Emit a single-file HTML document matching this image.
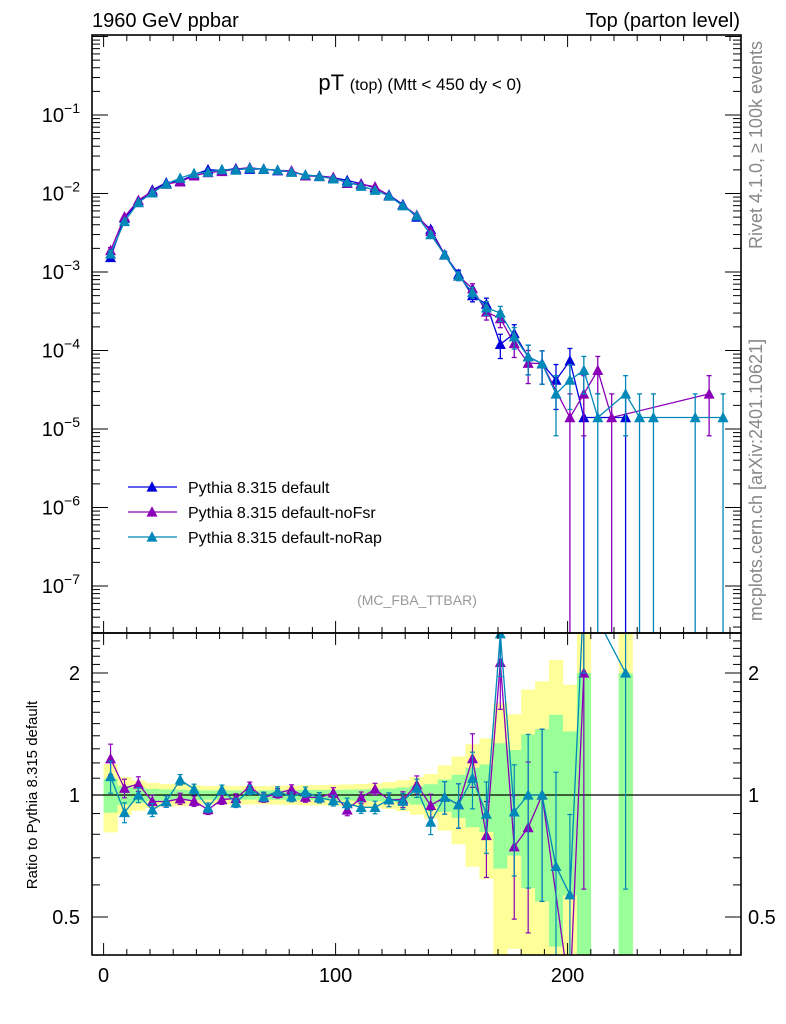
<!DOCTYPE html>
<html><head><meta charset="utf-8"><style>
html,body{margin:0;padding:0;background:#fff;overflow:hidden;width:786px;height:1024px;}
svg{display:block;font-family:"Liberation Sans",Arial,sans-serif;}
</style></head><body>
<svg id="chart" width="786" height="1024" viewBox="0 0 786 1024" xmlns="http://www.w3.org/2000/svg">
<defs>
<clipPath id="cm"><rect x="92" y="35" width="649" height="598"/></clipPath>
<clipPath id="cr"><rect x="92" y="633" width="649" height="322"/></clipPath>
</defs>
<text x="92" y="27" font-size="20">1960 GeV ppbar</text>
<text x="740" y="27" font-size="20" text-anchor="end">Top (parton level)</text>
<text x="420" y="90" font-size="22" text-anchor="middle">pT <tspan font-size="16">(top)</tspan><tspan font-size="17"> (Mtt &lt; 450 dy &lt; 0)</tspan></text>
<text transform="translate(762,145) rotate(-90)" font-size="18" fill="#888" text-anchor="middle">Rivet 4.1.0, ≥ 100k events</text>
<text transform="translate(762,480) rotate(-90)" font-size="18" fill="#888" text-anchor="middle">mcplots.cern.ch [arXiv:2401.10621]</text>
<text x="417" y="605" font-size="14" fill="#999" text-anchor="middle">(MC_FBA_TTBAR)</text>
<text transform="translate(37,795) rotate(-90)" font-size="15" text-anchor="middle">Ratio to Pythia 8.315 default</text>
<g id="bands"></g><g id="plots"></g><g id="axes"></g><g id="legend"></g>
</svg>
<script>
const binCenters=[3,9,15,21,27,33,39,45,51,57,63,69,75,81,87,93,99,105,111,117,123,129,135,141,147,153,159,165,171,177,183,189,195,201,207,213,219,225,231,237,243,249,255,261,267];
const valDefault=[1.53e-3,4.86e-3,7.7e-3,1.11e-2,1.37e-2,1.44e-2,1.74e-2,2.01e-2,1.96e-2,2.08e-2,2.04e-2,2.06e-2,1.95e-2,1.89e-2,1.70e-2,1.675e-2,1.59e-2,1.47e-2,1.33e-2,1.18e-2,9.55e-3,7.25e-3,5.0e-3,3.5e-3,1.67e-3,9.4e-4,5.0e-4,3.9e-4,1.2e-4,1.65e-4,8.3e-5,6.8e-5,4.2e-5,7.4e-5,1.4e-5,0,0,1.4e-5,0,0,0,0,0,0,0];
const valNoFsr=[1.88e-3,5.05e-3,8.2e-3,1.07e-2,1.32e-2,1.41e-2,1.68e-2,1.85e-2,1.91e-2,2.04e-2,2.14e-2,2.03e-2,1.97e-2,1.95e-2,1.68e-2,1.65e-2,1.61e-2,1.35e-2,1.31e-2,1.22e-2,9.3e-3,7.07e-3,5.3e-3,3.3e-3,1.65e-3,8.9e-4,6.15e-4,3.1e-4,2.55e-4,1.23e-4,6.9e-5,6.8e-5,0,1.4e-5,2.8e-5,5.6e-5,1.4e-5,0,0,0,0,0,0,2.8e-5,0];
const valNoRap=[1.7e-3,4.4e-3,7.7e-3,1.02e-2,1.32e-2,1.57e-2,1.8e-2,1.87e-2,2.02e-2,1.99e-2,2.1e-2,2.04e-2,1.99e-2,1.87e-2,1.73e-2,1.65e-2,1.54e-2,1.4e-2,1.24e-2,1.1e-2,9.3e-3,7.0e-3,5.2e-3,3.0e-3,1.65e-3,8.9e-4,5.5e-4,3.5e-4,3.0e-4,1.5e-4,8.3e-5,6.8e-5,2.8e-5,4.2e-5,5.6e-5,1.4e-5,0,2.8e-5,1.4e-5,1.4e-5,0,0,1.4e-5,0,1.4e-5];
const eventWeight=1.4e-5;
const mainTickExps=[-7,-6,-5,-4,-3,-2,-1];
const ratioTicks=[0.5,1,2];
const xTicks=[0,100,200];

const NS="http://www.w3.org/2000/svg";
const L=92,R=741,MT=35,MB=633,RB=955;
const X=v=>103.6+2.32*v;
const Y=v=>115-(Math.log10(v)+1)*78.5;
const RY=r=>795-Math.log2(r)*122;
function mk(tag,attrs,parent){const e=document.createElementNS(NS,tag);for(const k in attrs)e.setAttribute(k,attrs[k]);parent.appendChild(e);return e;}
const bands=document.getElementById('bands'),plots=document.getElementById('plots'),axes=document.getElementById('axes'),legend=document.getElementById('legend');
const err=v=>Math.sqrt(v*eventWeight);

const bg=mk('g',{'clip-path':'url(#cr)'},bands);


binCenters.forEach((c,i)=>{const v=valDefault[i];if(v<=0)return;const s=err(v)/v;
 [[2,'#ffff99','yellow-band'],[1,'#99ff99','green-band']].forEach(([k,col,nm])=>{
  const hi=1+k*s,lo=1-k*s;const yt=Math.max(RY(hi),MB),yb=lo>0?Math.min(RY(lo),RB):RB;
  const r=mk('rect',{x:X(c-3),y:yt,width:X(c+3)-X(c-3)+0.3,height:yb-yt,fill:col},bg);
  
  
 });});
mk('line',{x1:L,x2:R,y1:RY(1),y2:RY(1),stroke:'#000','stroke-width':1.2},bands);

function tri(g,x,y,col,s){mk('path',{d:`M${x-s} ${y+s*0.85}L${x+s} ${y+s*0.85}L${x} ${y-s*1.05}Z`,fill:col},g);}
const series=[['default',valDefault,'#0000dd'],['noFsr',valNoFsr,'#8a00b8'],['noRap',valNoRap,'#0088b8']];
series.forEach(([nm,vals,col],si)=>{
 const gm=mk('g',{'clip-path':'url(#cm)'},plots);
 
 
 let pts=[];binCenters.forEach((c,i)=>{if(vals[i]>0)pts.push([X(c),Y(vals[i])]);});
 mk('polyline',{points:pts.map(p=>p.join(',')).join(' '),fill:'none',stroke:col,'stroke-width':1.3},gm);
 binCenters.forEach((c,i)=>{const v=vals[i];if(v<=0)return;const e=err(v);const x=X(c);
  const y1=Y(v+e),y2=v-e>0?Y(v-e):MB;
  if(y2-y1>4){mk('line',{x1:x,x2:x,y1:y1,y2:y2,stroke:col,'stroke-width':1.3},gm);
   mk('line',{x1:x-2.5,x2:x+2.5,y1:y1,y2:y1,stroke:col,'stroke-width':1.3},gm);
   if(v-e>0)mk('line',{x1:x-2.5,x2:x+2.5,y1:y2,y2:y2,stroke:col,'stroke-width':1.3},gm);}
  tri(gm,x,Y(v),col,5.5);});
 const gr=mk('g',{'clip-path':'url(#cr)'},plots);
 
 
 if(si===0)return;
 let rp=[];binCenters.forEach((c,i)=>{const b=valDefault[i],v=vals[i];if(b<=0||v<=0)return;rp.push([X(c),Math.max(Math.min(RY(v/b),RB+40),MB-40)]);});
 mk('polyline',{points:rp.map(p=>p.join(',')).join(' '),fill:'none',stroke:col,'stroke-width':1.3},gr);
 binCenters.forEach((c,i)=>{const b=valDefault[i],v=vals[i];if(b<=0||v<=0)return;const r=v/b,e=err(v)/b,x=X(c);
  const y1=Math.max(RY(r+e),MB),y2=r-e>0?Math.min(RY(r-e),RB):RB;
  if(y2>y1){mk('line',{x1:x,x2:x,y1:y1,y2:y2,stroke:col,'stroke-width':1.2},gr);
  mk('line',{x1:x-2.5,x2:x+2.5,y1:y1,y2:y1,stroke:col,'stroke-width':1.2},gr);
  mk('line',{x1:x-2.5,x2:x+2.5,y1:y2,y2:y2,stroke:col,'stroke-width':1.2},gr);}
  const ty=RY(r);if(ty<RB+5&&ty>MB-5)tri(gr,x,ty,col,5.5);});
});

[[MT,MB],[MB,RB]].forEach(([t,b])=>mk('rect',{x:L,y:t,width:R-L,height:b-t,fill:'none',stroke:'#000','stroke-width':1.6},axes));
for(let v=0;v<=270;v+=10){const x=X(v),maj=v%100===0;const l=maj?12:6;
 [[MT,1],[MB,-1],[MB,1],[RB,-1]].forEach(([y,d])=>mk('line',{x1:x,x2:x,y1:y,y2:y+d*l,stroke:'#000','stroke-width':1},axes));}
xTicks.forEach(v=>{const t=mk('text',{x:X(v),y:982,'font-size':20,'text-anchor':'middle'},axes);t.textContent=v;
 
 });
for(let e=-8;e<=0;e++){for(let m=1;m<10;m++){const v=m*Math.pow(10,e);const y=Y(v);if(y<MT||y>MB)continue;const l=m===1?16:8;
 mk('line',{x1:L,x2:L+l,y1:y,y2:y,stroke:'#000','stroke-width':1},axes);mk('line',{x1:R,x2:R-l,y1:y,y2:y,stroke:'#000','stroke-width':1},axes);}}
mainTickExps.forEach(e=>{const t=mk('text',{x:80,y:Y(Math.pow(10,e))+7,'font-size':20,'text-anchor':'end'},axes);
 t.innerHTML='10<tspan dy="-9" font-size="14">−'+(-e)+'</tspan>';
 
 });
for(let r=0.4;r<=2.5;r+=0.1){const y=RY(r);if(y<MB||y>RB)continue;
 const maj=[0.5,1,2].some(q=>Math.abs(q-r)<1e-6);const l=maj?16:8;
 mk('line',{x1:L,x2:L+l,y1:y,y2:y,stroke:'#000','stroke-width':1},axes);mk('line',{x1:R,x2:R-l,y1:y,y2:y,stroke:'#000','stroke-width':1},axes);}
ratioTicks.forEach(r=>{[[80,'end'],[748,'start']].forEach(([x,a])=>{const t=mk('text',{x:x,y:RY(r)+7,'font-size':20,'text-anchor':a},axes);t.textContent=r;
 
 });});

const names=['Pythia 8.315 default','Pythia 8.315 default-noFsr','Pythia 8.315 default-noRap'];
series.forEach(([nm,v,col],i)=>{const y=487+25*i;const g=mk('g',{},legend);
 
 
 mk('line',{x1:128,x2:177,y1:y,y2:y,stroke:col,'stroke-width':1.3},g);tri(g,152,y,col,5.5);
 const t=mk('text',{x:188,y:y+6,'font-size':16},g);t.textContent=names[i];});
</script>
</body></html>
